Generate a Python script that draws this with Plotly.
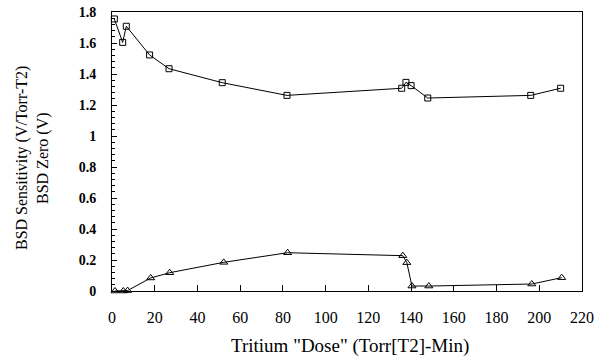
import plotly.graph_objects as go

sens_x = [1.1, 5.0, 6.7, 17.6, 26.7, 51.6, 81.9, 135.6, 137.6, 140.0, 147.8, 196.0, 210.0]
sens_y = [1.755, 1.604, 1.708, 1.523, 1.434, 1.344, 1.262, 1.308, 1.346, 1.325, 1.245, 1.262, 1.308]

zero_x = [1.4, 5.3, 7.3, 18.1, 27.0, 52.3, 82.2, 136.1, 138.0, 140.4, 148.3, 196.5, 210.5]
zero_y = [0.0, 0.0, 0.003, 0.084, 0.118, 0.185, 0.247, 0.228, 0.183, 0.032, 0.032, 0.045, 0.086]

x_ticks = [0, 20, 40, 60, 80, 100, 120, 140, 160, 180, 200, 220]
y_ticks = [0, 0.2, 0.4, 0.6, 0.8, 1.0, 1.2, 1.4, 1.6, 1.8]
y_labels = ["0", "0.2", "0.4", "0.6", "0.8", "1", "1.2", "1.4", "1.6", "1.8"]

serif = "Times New Roman, Liberation Serif, DejaVu Serif, serif"

W, H = 603, 357
L, R, T, B = 112, 21, 12, 66
pw, ph = W - L - R, H - T - B

def px_x(p):
    return (p - L) / pw

def px_y(p):
    return (H - B - p) / ph

fig = go.Figure()
fig.add_trace(go.Scatter(
    x=sens_x, y=sens_y, mode="lines+markers",
    line=dict(color="black", width=1),
    marker=dict(symbol="square-open", size=6, color="black", line=dict(width=1)),
    cliponaxis=False, showlegend=False))
fig.add_trace(go.Scatter(
    x=zero_x, y=zero_y, mode="lines+markers",
    line=dict(color="black", width=1),
    marker=dict(symbol="triangle-up-open", size=7, color="black", line=dict(width=1)),
    cliponaxis=False, showlegend=False))

fig.update_layout(
    width=W, height=H,
    margin=dict(l=L, r=R, t=T, b=B, autoexpand=False),
    paper_bgcolor="white", plot_bgcolor="white",
    font=dict(family=serif, color="black"),
    xaxis=dict(
        range=[0, 220], tickvals=x_ticks, ticktext=[str(v) for v in x_ticks],
        showgrid=False, zeroline=False, automargin=False, ticklabeloverflow="allow",
        showline=True, linecolor="black", linewidth=1, mirror=True,
        ticks="inside", ticklen=6, tickcolor="black", ticklabelstandoff=12,
        tickfont=dict(family=serif, size=16, color="black"),
    ),
    yaxis=dict(
        range=[0, 1.8], tickvals=y_ticks, ticktext=["<b>%s</b>" % t for t in y_labels],
        showgrid=False, zeroline=False, automargin=False, ticklabeloverflow="allow",
        showline=True, linecolor="black", linewidth=1, mirror=True,
        ticks="inside", ticklen=5, tickcolor="black", ticklabelstandoff=12,
        tickfont=dict(family=serif, size=14, color="black"),
        minor=dict(dtick=0.04, tick0=0, ticks="inside", ticklen=3, tickcolor="black", showgrid=False),
    ),
    annotations=[
        dict(text='Tritium "Dose" (Torr[T2]-Min)', xref="paper", yref="paper",
             x=px_x(350), y=px_y(346), xanchor="center", yanchor="middle",
             showarrow=False, font=dict(family=serif, size=19, color="black")),
        dict(text="BSD Sensitivity (V/Torr-T2)", xref="paper", yref="paper",
             x=px_x(22), y=px_y(158), xanchor="center", yanchor="middle", textangle=-90,
             showarrow=False, font=dict(family=serif, size=16, color="black")),
        dict(text="BSD Zero (V)", xref="paper", yref="paper",
             x=px_x(43), y=px_y(158), xanchor="center", yanchor="middle", textangle=-90,
             showarrow=False, font=dict(family=serif, size=16, color="black")),
    ],
)

fig.write_html("out.html", config={"displayModeBar": False},
               post_script="document.body.style.margin='0';")
